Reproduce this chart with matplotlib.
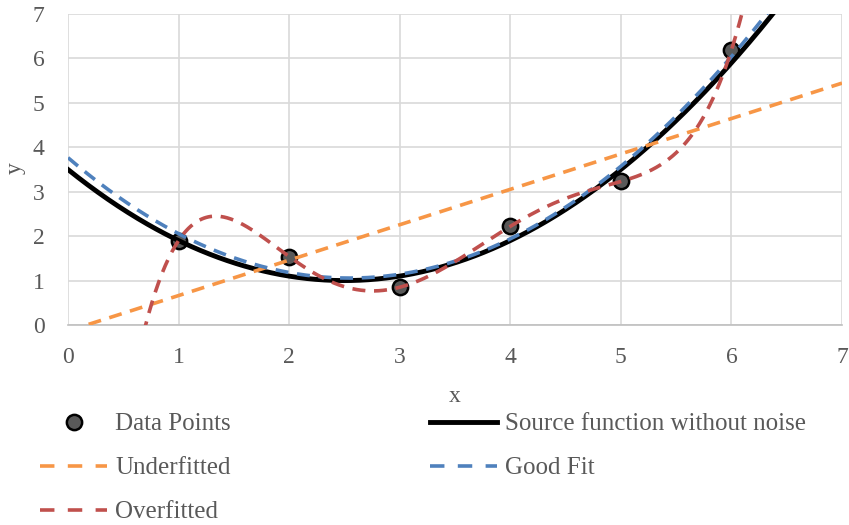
import numpy as np
import matplotlib
matplotlib.use("Agg")
import matplotlib.pyplot as plt
from matplotlib.lines import Line2D

# noisy samples and the polynomial they were drawn from
x_points = [1, 2, 3, 4, 5, 6]
y_points = [1.90, 1.54, 0.85, 2.22, 3.23, 6.19]
source_coeffs = [0.4, -2.0, 3.5]   # 0.4 x^2 - 2 x + 3.5

fit_names = ["Underfitted", "Good Fit", "Overfitted"]
fit_degrees = [1, 2, 5]
fit_colors = ["#F79646", "#4F81BD", "#C0504D"]

ticks = [0, 1, 2, 3, 4, 5, 6, 7]

GRAY_TEXT = "#595959"

plt.rcParams["font.family"] = ["Liberation Serif", "DejaVu Serif"]

fig = plt.figure(figsize=(8.49, 5.25), dpi=100)
ax = fig.add_axes([68 / 849, 1 - 325 / 525, (842 - 68) / 849, (325 - 14) / 525])

xs = np.linspace(0, 7, 701)
dash = (3.6, 2.4)

ax.plot(x_points, y_points, "o", ms=11, mfc="#595959", mec="black",
        mew=1.8, zorder=3)
ax.plot(xs, np.polyval(source_coeffs, xs), color="black", lw=3.5, zorder=4)

for name, deg, col in zip(fit_names, fit_degrees, fit_colors):
    coeffs = np.polyfit(x_points, y_points, deg)
    ax.plot(xs, np.polyval(coeffs, xs), color=col, lw=2.6, dashes=dash,
            zorder=5)

ax.set_xlim(0, 7)
ax.set_ylim(0, 7)
ax.set_xticks(ticks)
ax.set_yticks(ticks)
ax.grid(True, color="#d9d9d9", lw=1.2)
ax.set_axisbelow(True)
for side in ["top", "right", "left"]:
    ax.spines[side].set_visible(False)
ax.spines["bottom"].set_color("#bfbfbf")
ax.spines["bottom"].set_linewidth(1.2)
ax.tick_params(length=0, labelsize=17, labelcolor=GRAY_TEXT)
ax.tick_params(axis="x", pad=16)
ax.tick_params(axis="y", pad=17)

ax.set_xlabel("x", fontsize=17, color=GRAY_TEXT, va="center")
ax.set_ylabel("y", fontsize=17, color=GRAY_TEXT, va="center")
ax.xaxis.set_label_coords(0.5, (325 - 396) / 311)
ax.yaxis.set_label_coords((15 - 68) / 774, (325 - 168) / 311)

# legend proxies, dashed a little longer than in the plot
leg_dash = (4.0, 3.7)
h_points = Line2D([], [], ls="none", marker="o", ms=11, mfc="#595959",
                  mec="black", mew=1.8)
h_source = Line2D([], [], color="black", lw=3.5)
h_fits = [Line2D([], [], color=c, lw=2.6, dashes=leg_dash) for c in fit_colors]

handles = [h_points, h_fits[0], h_fits[2], h_source, h_fits[1]]
labels = ["Data Points", "Underfitted", "Overfitted",
          "Source function without noise", "Good Fit"]
fig.legend(handles=handles, labels=labels,
           loc="upper left", bbox_to_anchor=(40 / 849, 1 - 413 / 525),
           ncol=2, frameon=False, fontsize=18, labelcolor=GRAY_TEXT,
           handlelength=2.68, handletextpad=0.32, columnspacing=7.96,
           labelspacing=0.86, borderpad=0, borderaxespad=0)

fig.savefig("out.png", dpi=100)
